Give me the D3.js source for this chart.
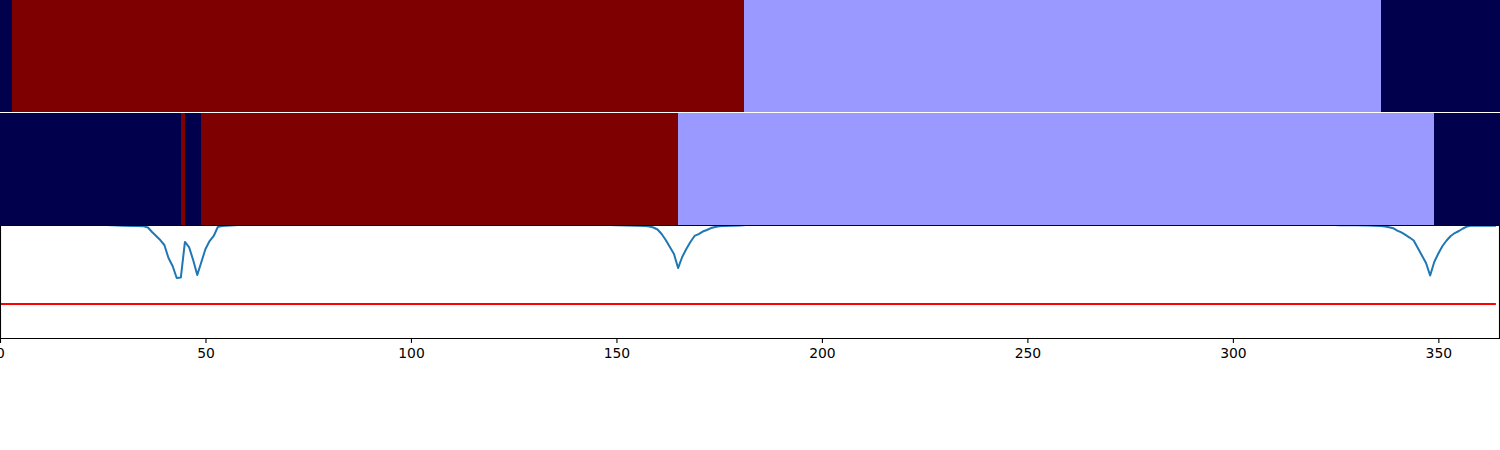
<!DOCTYPE html>
<html>
<head>
<meta charset="utf-8">
<script src="https://cdn.jsdelivr.net/npm/d3@7"></script>
<style>
  html, body { margin: 0; padding: 0; background: #fff; }
  svg { display: block; }
</style>
</head>
<body>
<div id="chart"></div>
<script>
// ---------- data ----------
const xDomain = [0, 365];
const xTicks = [0, 50, 100, 150, 200, 250, 300, 350];

// row 1 segments (day start, day end, state)
const row1Start = [0, 2.85, 181, 336];
const row1End   = [2.85, 181, 336, 365];
const row1State = ["low", "high", "mid", "low"];

// row 2 segments
const row2Start = [0, 44, 45, 48.9, 165, 348.9];
const row2End   = [44, 45, 48.9, 165, 348.9, 365];
const row2State = ["low", "high", "low", "high", "mid", "low"];

const stateNames  = ["low", "mid", "high"];
const stateColors = ["#00004c", "#9999ff", "#7f0000"];

// bottom panel line (day, value)
const lineDays = [0, 10, 20, 26, 30, 33, 35, 36, 37, 38, 39, 40, 41, 42, 43, 44, 45, 46, 47, 48, 49, 50, 51, 52, 53, 54, 55, 58, 70, 100, 130, 145, 150, 155, 157, 158, 159, 160, 161, 162, 163, 164, 165, 166, 167, 168, 169, 170, 171, 172, 173, 174, 175, 176, 180, 185, 220, 260, 300, 320, 326, 330, 333, 336, 337, 338, 339, 340, 341, 342, 343, 344, 345, 346, 347, 348, 349, 350, 351, 352, 353, 354, 355, 356, 357, 358, 360, 362, 364];
const lineValues = [1.10, 1.06, 1.02, 1.0, 0.994, 0.991, 0.988, 0.978, 0.938, 0.903, 0.867, 0.823, 0.708, 0.637, 0.531, 0.535, 0.850, 0.805, 0.690, 0.558, 0.673, 0.788, 0.858, 0.903, 0.982, 0.991, 0.993, 1.0, 1.03, 1.08, 1.03, 1.005, 0.998, 0.994, 0.991, 0.987, 0.978, 0.960, 0.920, 0.867, 0.805, 0.743, 0.619, 0.717, 0.788, 0.850, 0.903, 0.920, 0.942, 0.956, 0.973, 0.982, 0.988, 0.991, 0.996, 1.01, 1.08, 1.10, 1.06, 1.01, 0.998, 0.997, 0.995, 0.991, 0.987, 0.980, 0.972, 0.951, 0.934, 0.912, 0.889, 0.863, 0.796, 0.730, 0.664, 0.553, 0.673, 0.748, 0.814, 0.863, 0.903, 0.929, 0.947, 0.969, 0.987, 0.996, 0.993, 0.993, 0.993];

const threshold = 0.3;
const yDomain = [0, 1];

// ---------- layout ----------
const W = 1500, H = 450;
const panel1 = {top: 0, bottom: 112};
const panel2 = {top: 113, bottom: 225};
const panel3 = {top: 225, bottom: 338};

const svg = d3.select("#chart").append("svg")
  .attr("width", W).attr("height", H);

const x = d3.scaleLinear().domain(xDomain).range([0, W]);
const color = d3.scaleOrdinal().domain(stateNames).range(stateColors);

function drawRow(starts, ends, states, p) {
  const segs = starts.map((s, i) => ({s, e: ends[i], st: states[i]}));
  svg.append("g").selectAll("rect").data(segs).join("rect")
    .attr("x", d => x(d.s))
    .attr("y", p.top)
    .attr("width", d => x(d.e) - x(d.s))
    .attr("height", p.bottom - p.top)
    .attr("fill", d => color(d.st))
    .attr("shape-rendering", "crispEdges");
}
drawRow(row1Start, row1End, row1State, panel1);
drawRow(row2Start, row2End, row2State, panel2);

// bottom panel
const y = d3.scaleLinear().domain(yDomain).range([panel3.bottom, panel3.top]);

svg.append("clipPath").attr("id", "clip3")
  .append("rect").attr("x", 0).attr("y", panel3.top)
  .attr("width", W).attr("height", panel3.bottom - panel3.top);

const g3 = svg.append("g").attr("clip-path", "url(#clip3)");

const pts = lineDays.map((d, i) => [d, lineValues[i]]);
g3.append("path")
  .datum(pts)
  .attr("fill", "none")
  .attr("stroke", "#1f77b4")
  .attr("stroke-width", 2)
  .attr("stroke-linejoin", "round")
  .attr("d", d3.line().x(d => x(d[0])).y(d => y(d[1])));

g3.append("line")
  .attr("x1", x(0)).attr("x2", x(364))
  .attr("y1", y(threshold)).attr("y2", y(threshold))
  .attr("stroke", "#ff0000").attr("stroke-width", 2);

// spines
const spines = svg.append("g").attr("stroke", "#000").attr("stroke-width", 1.1);
spines.append("line").attr("x1", 0).attr("x2", W).attr("y1", panel3.top + 0.5).attr("y2", panel3.top + 0.5);
spines.append("line").attr("x1", 0.5).attr("x2", 0.5).attr("y1", panel3.top).attr("y2", panel3.bottom);
spines.append("line").attr("x1", W - 0.5).attr("x2", W - 0.5).attr("y1", panel3.top).attr("y2", panel3.bottom);

// white separator between top rows
svg.append("line").attr("x1", 0).attr("x2", W).attr("y1", 112.5).attr("y2", 112.5)
  .attr("stroke", "#fff").attr("stroke-width", 1);

// x axis
const xAxis = d3.axisBottom(x).tickValues(xTicks).tickSize(4.9).tickPadding(4.9)
  .tickFormat(d3.format("d"));
const ax = svg.append("g").attr("transform", `translate(0,${panel3.bottom})`).call(xAxis);
ax.select(".domain").attr("stroke", "#000").attr("stroke-width", 1.1).attr("d", `M0.5,0.5H${W}`);
ax.selectAll(".tick line").attr("stroke", "#000").attr("stroke-width", 1.1);
ax.selectAll(".tick text")
  .attr("fill", "#000")
  .style("font-family", "'DejaVu Sans', sans-serif")
  .style("font-size", "13.9px");
</script>
</body>
</html>
